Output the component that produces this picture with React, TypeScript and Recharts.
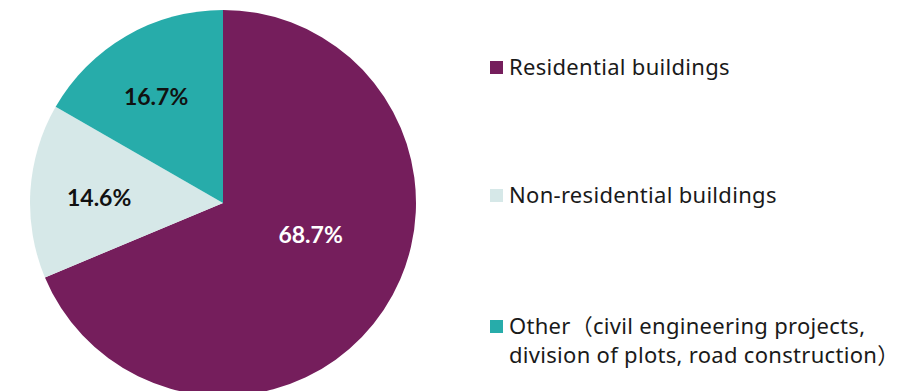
import { PieChart, Pie, Cell, Legend } from "recharts";

const categories = [
  "Residential buildings",
  "Non-residential buildings",
  "Other（civil engineering projects,\ndivision of plots, road construction）",
];
const shares = [68.7, 14.6, 16.7];
const labels = ["68.7%", "14.6%", "16.7%"];

const COLORS = ["#751E5C", "#D6E8E8", "#27ACAA"];
const LABEL_COLORS = ["#ffffff", "#111111", "#111111"];
// per-slice label nudges: radius and angle offset (degrees)
const LABEL_RADIUS = [93, 124, 126];
const LABEL_ANGLE_SHIFT = [14, 1, 2];
const LEGEND_TOP = [52, 180, 311];

const data = categories.map((name, i) => ({ name, value: shares[i] }));

const RAD = Math.PI / 180;

function renderLabel(props: any) {
  const { cx, cy, midAngle, index } = props;
  const a = (midAngle + LABEL_ANGLE_SHIFT[index]) * RAD;
  const r = LABEL_RADIUS[index];
  const x = cx + r * Math.cos(a);
  const y = cy - r * Math.sin(a);
  return (
    <text
      x={x}
      y={y}
      fill={LABEL_COLORS[index]}
      textAnchor="middle"
      dominantBaseline="central"
      style={{ fontFamily: "Lato, sans-serif", fontWeight: 700, fontSize: 23 }}
    >
      {labels[index]}
    </text>
  );
}

function LegendContent() {
  return (
    <div style={{ position: "relative", width: 413, height: 391 }}>
      {categories.map((c, i) => (
        <div
          key={c}
          style={{
            position: "absolute",
            left: 0,
            top: LEGEND_TOP[i],
            display: "flex",
            alignItems: "flex-start",
            fontFamily: "'Noto Sans', 'Noto Sans CJK SC', sans-serif",
            fontSize: 22,
            lineHeight: "29px",
            letterSpacing: 0.3,
            color: "#1a1a1a",
            whiteSpace: "pre",
          }}
        >
          <span
            style={{
              display: "inline-block",
              flex: "none",
              width: 13,
              height: 13,
              background: COLORS[i],
              marginTop: 9,
              marginRight: 6,
            }}
          />
          <span>{c}</span>
        </div>
      ))}
    </div>
  );
}

export default function App() {
  return (
    <div style={{ width: 903, height: 391, background: "#fff" }}>
      <style>{`body{margin:0}`}</style>
      <PieChart width={903} height={391} margin={{ top: 0, right: 0, bottom: 0, left: 0 }}>
        <Pie
          data={data}
          dataKey="value"
          nameKey="name"
          cx={223}
          cy={203}
          outerRadius={193}
          startAngle={90}
          endAngle={-270}
          stroke="none"
          label={renderLabel}
          labelLine={false}
          isAnimationActive={false}
        >
          {data.map((d, i) => (
            <Cell key={d.name} fill={COLORS[i]} />
          ))}
        </Pie>
        <Legend
          content={<LegendContent />}
          layout="vertical"
          align="right"
          verticalAlign="top"
          wrapperStyle={{ left: 490, top: 0, width: 413, height: 391 }}
        />
      </PieChart>
    </div>
  );
}
